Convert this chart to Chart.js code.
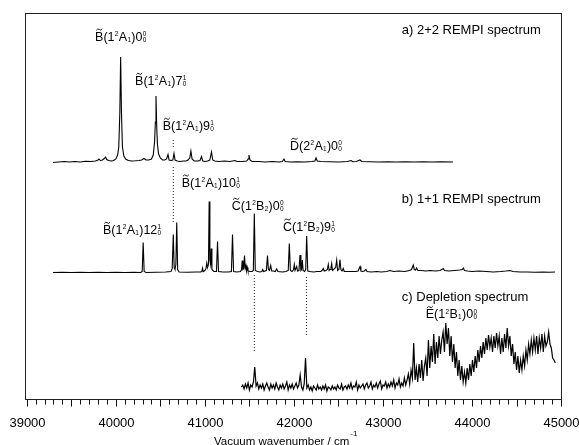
<!DOCTYPE html>
<html>
<head>
<meta charset="utf-8">
<title>REMPI and depletion spectra</title>
<script src="https://cdn.jsdelivr.net/npm/chart.js@4.4.1/dist/chart.umd.min.js"></script>
<style>
  html, body { margin: 0; padding: 0; background: #fff; }
</style>
</head>
<body>
<canvas id="spectra" width="579" height="445"></canvas>
<script>
// ── a) 2+2 REMPI spectrum: wavenumber / cm-1 and height above its baseline ──
var rempi22Wn = [
  39294, 39360, 39420, 39480, 39540, 39600, 39660, 39720, 39770, 39800,
  39811, 39825, 39850, 39870, 39884, 39898, 39920, 39950, 39975, 40000,
  40020, 40033, 40045, 40054, 40063, 40074, 40090, 40110, 40140, 40180,
  40220, 40260, 40290, 40316, 40340, 40370, 40400, 40420, 40435, 40444,
  40451, 40458, 40467, 40480, 40500, 40525, 40550, 40570, 40586, 40598,
  40620, 40640, 40653, 40665, 40690, 40720, 40760, 40790, 40810, 40830,
  40843, 40856, 40880, 40920, 40945, 40962, 40976, 41000, 41030, 41055,
  41074, 41088, 41110, 41160, 41220, 41280, 41338, 41360, 41420, 41470,
  41486, 41495, 41506, 41530, 41600, 41680, 41760, 41830, 41870, 41888,
  41902, 41960, 42040, 42120, 42200, 42235, 42248, 42262, 42300, 42400,
  42500, 42600, 42641, 42660, 42700, 42742, 42760, 42850, 42950, 43050,
  43150, 43250, 43350, 43450, 43550, 43650, 43787
];
var rempi22Int = [
  -0.5, 0, 0.5, 0, 0.5, 0, 0.8, 0.5, 1, 2,
  3, 1.5, 2, 3.5, 5, 2.5, 1.5, 1, 1.5, 3,
  7, 15, 50, 105, 50, 15, 6, 3, 1.5, 1,
  1.2, 1.5, 2, 3.5, 2, 2, 3, 7, 20, 40,
  66, 38, 18, 8, 4, 2, 2, 3, 7.5, 2,
  1.5, 2, 8.5, 2, 1, 0.5, 1, 1, 2, 4,
  11, 3, 1, 1, 1.5, 5.5, 1, 0.5, 1, 2,
  10, 2, 1, 0.5, 1, 0.5, 1.5, 0.5, 0.5, 1,
  3, 7, 2, 0.5, 0.5, 0, 0.5, 0, 0.5, 3,
  0.5, 0, 0.3, 0, 0.5, 1, 4, 1, 0.5, 0.3,
  0, 0.5, 1.5, 0.3, 0.5, 2, 0.5, 0.3, 0, 0.3,
  0, 0.2, 0, 0.3, 0, 0.3, 0
];

// ── b) 1+1 REMPI spectrum ──────────────────────────────────
var rempi11Wn = [
  39294, 39400, 39500, 39600, 39700, 39800, 39900, 40000, 40100, 40200,
  40280, 40296, 40307, 40318, 40340, 40450, 40560, 40620, 40633, 40645,
  40655, 40664, 40674, 40684, 40694, 40710, 40800, 40900, 40950, 40965,
  40973, 40982, 41000, 41012, 41021, 41030, 41040, 41048, 41056, 41064,
  41071, 41079, 41100, 41130, 41142, 41153, 41200, 41260, 41298, 41310,
  41322, 41360, 41400, 41412, 41419, 41427, 41436, 41445, 41453, 41462,
  41469, 41476, 41484, 41510, 41530, 41544, 41555, 41566, 41590, 41620,
  41640, 41649, 41660, 41690, 41703, 41713, 41725, 41739, 41750, 41770,
  41790, 41806, 41820, 41870, 41910, 41936, 41948, 41960, 41980, 41995,
  42004, 42012, 42022, 42031, 42040, 42056, 42068, 42078, 42086, 42094,
  42103, 42120, 42132, 42143, 42155, 42180, 42220, 42260, 42300, 42315,
  42330, 42340, 42360, 42375, 42386, 42395, 42405, 42416, 42424, 42432,
  42445, 42468, 42480, 42490, 42505, 42517, 42527, 42540, 42554, 42565,
  42600, 42650, 42690, 42720, 42742, 42752, 42770, 42790, 42809, 42820,
  42870, 42930, 42980, 43040, 43079, 43120, 43180, 43240, 43300, 43320,
  43340, 43352, 43366, 43378, 43392, 43430, 43480, 43530, 43590, 43640,
  43660, 43677, 43690, 43740, 43800, 43860, 43890, 43902, 43915, 43950,
  44000, 44080, 44160, 44240, 44320, 44380, 44426, 44460, 44540, 44620,
  44700, 44800, 44870, 44932
];
var rempi11Int = [
  0, 0.3, 0, 0.3, 0, 0.3, 0, 0.2, 0, 0.3,
  0, 1, 30, 1, 0, 0.3, 0.5, 1, 4, 38,
  5, 3, 8, 50, 3, 0.5, 0.3, 0.5, 0.5, 1,
  4.5, 1, 2, 4, 9.5, 5, 8, 71, 12, 8,
  24, 3, 1, 1, 31, 1, 0.5, 0.5, 1, 38,
  1, 0.5, 1, 3, 12, 3, 4, 17, 4, 7,
  2, 5, 1.5, 1, 1, 2, 59, 2, 1, 0.5,
  1, 3, 1, 2, 17, 3, 2, 7, 1.5, 1.5,
  1, 3.5, 1, 0.5, 1, 2, 29, 2, 1, 3,
  8, 2, 2, 6, 1.5, 2, 17.5, 2, 3, 12.5,
  2, 1, 3, 36.5, 1.5, 1, 0.5, 1, 1, 2,
  4, 1.5, 2, 3, 8, 2, 3, 5, 9, 2,
  3, 5, 12.5, 2, 3, 13, 3, 1.5, 4, 1,
  1, 1, 1, 1.5, 6, 1.5, 1, 1.5, 3, 1,
  0.5, 1, 0.5, 1, 2, 1, 1.5, 1, 2, 3,
  7.5, 3, 2.5, 4.5, 2, 2, 1.5, 2, 1.5, 2,
  3, 4, 2, 1.5, 2, 2.5, 3, 4.5, 2, 1.5,
  1, 1.5, 1, 0.5, 1, 1.5, 2, 1, 0.5, 0.5,
  0.3, 0.5, 0.2, 0.5
];

// ── c) Depletion spectrum (scan from 41410 cm-1 in 15 cm-1 steps) ──
var depletionStartWn = 41410;
var depletionStepWn = 15;
var depletionInt = [
  1, 3, -1, 4, 0, 5, -2, 3, 1, 6,
  21, 2, 5, -1, 3, 0, 4, -2, 2, 5,
  1, -2, 4, 0, 3, -1, 5, 1, -2, 3,
  0, 4, -1, 2, 6, -2, 3, 0, 4, -1,
  2, 5, 0, 3, 13, 1, -2, 4, 30, 0,
  3, -2, 1, -3, 2, 0, -2, 3, -1, 1,
  -2, 2, -1, 3, -3, 1, 0, -2, 2, -1,
  1, -2, 3, 0, -1, 4, -2, 1, 2, -1,
  3, 0, 5, -1, 2, 1, 6, -2, 3, 0,
  2, 4, -1, 3, 5, 0, 2, 6, -1, 3,
  1, 5, 0, 4, 7, -1, 3, 2, 6, 0,
  4, 1, 6, 2, 8, 0, 5, 3, 9, 1,
  5, 2, 10, 3, 8, 14, 4, 18, 10, 45,
  8, 20, 6, 24, 10, 28, 7, 22, 30, 12,
  48, 20, 42, 26, 54, 24, 46, 30, 52, 34,
  48, 56, 36, 65, 44, 60, 32, 52, 26, 44,
  20, 36, 12, 28, 8, 22, 6, 16, 5, 20,
  8, 24, 12, 28, 16, 32, 20, 38, 26, 42,
  30, 46, 34, 50, 38, 53, 41, 50, 36, 52,
  40, 55, 42, 52, 34, 50, 36, 54, 40, 60,
  42, 52, 32, 44, 24, 36, 18, 32, 15, 28,
  18, 32, 22, 38, 28, 44, 34, 48, 36, 50,
  38, 52, 34, 50, 40, 54, 36, 52, 42, 46,
  56, 44, 40, 30, 28, 25
];

// ── Dotted guide lines linking the same band across panels ──
var guideWn = [40645, 40645, 41555, 42140];
var guideTop = [259, 232, 124, 122];
var guideBottom = [252, 176, 46, 62];

// vertical offsets of the three stacked traces
var OFFSET_A = 237, OFFSET_B = 126.5, OFFSET_C = 11;

var FONT = '"Liberation Sans", Arial, Helvetica, sans-serif';

// band labels: ~X = letter with tilde, ^ = superscript, _ = subscript
var bandLabels = [
  { text: '~B(1^2A_1)0^0_0',  wn: 39767, y: 358.3 },
  { text: '~B(1^2A_1)7^1_0',  wn: 40216, y: 314 },
  { text: '~B(1^2A_1)9^1_0',  wn: 40526, y: 269 },
  { text: '~D(2^2A_1)0^0_0',  wn: 41956, y: 249 },
  { text: '~B(1^2A_1)10^1_0', wn: 40740, y: 212.3 },
  { text: '~B(1^2A_1)12^1_0', wn: 39856, y: 165 },
  { text: '~C(1^2B_2)0^0_0',  wn: 41301, y: 189 },
  { text: '~C(1^2B_2)9^1_0',  wn: 41877, y: 168.3 },
  { text: '~E(1^2B_1)0^0_0',  wn: 43480, y: 80.7 }
];
var panelTitles = [
  { text: 'a) 2+2 REMPI spectrum', wn: 44772, y: 364.7 },
  { text: 'b) 1+1 REMPI spectrum', wn: 44772, y: 195.7 },
  { text: 'c) Depletion spectrum', wn: 44631, y: 98.3 }
];

function trace(wn, values, offset) {
  return values.map(function (v, i) { return { x: wn[i], y: v + offset }; });
}

function depletionTrace() {
  return depletionInt.map(function (v, i) {
    return { x: depletionStartWn + i * depletionStepWn, y: v + OFFSET_C };
  });
}

function lineSet(points, extra) {
  var ds = {
    data: points,
    showLine: true,
    borderColor: '#000',
    borderWidth: 1.1,
    pointRadius: 0,
    tension: 0
  };
  for (var k in extra) ds[k] = extra[k];
  return ds;
}

// ── Rich text: tilde letters, stacked super/subscripts ─────
function drawRich(ctx, str, x, y, size) {
  var small = 6.5;
  var mainFont = size + 'px ' + FONT;
  var smallFont = small + 'px ' + FONT;
  var cx = x, i = 0;
  ctx.textAlign = 'left';
  ctx.textBaseline = 'alphabetic';
  while (i < str.length) {
    var ch = str[i];
    if (ch === '~') {
      var letter = str[i + 1];
      ctx.font = mainFont;
      ctx.fillText(letter, cx, y);
      var w = ctx.measureText(letter).width;
      var ty = y - size * 0.72 - 2.2;
      var a = cx + w * 0.15, b = w * 0.7;
      ctx.beginPath();
      ctx.moveTo(a, ty + 0.8);
      ctx.quadraticCurveTo(a + b * 0.25, ty - 1.6, a + b * 0.5, ty);
      ctx.quadraticCurveTo(a + b * 0.75, ty + 1.6, a + b, ty - 0.8);
      ctx.lineWidth = 0.9;
      ctx.stroke();
      cx += w;
      i += 2;
    } else if (ch === '^' || ch === '_') {
      ctx.font = smallFont;
      var sup = null, sub = null;
      if (ch === '^') {
        sup = str[i + 1];
        if (str[i + 2] === '_') { sub = str[i + 3]; i += 4; } else { i += 2; }
      } else {
        sub = str[i + 1];
        i += 2;
      }
      var ww = 0;
      if (sup) { ctx.fillText(sup, cx + 0.3, y - 4.7); ww = ctx.measureText(sup).width; }
      if (sub) { ctx.fillText(sub, cx + 0.3, y + 1); ww = Math.max(ww, ctx.measureText(sub).width); }
      cx += ww + 0.6;
    } else {
      ctx.font = mainFont;
      ctx.fillText(ch, cx, y);
      cx += ctx.measureText(ch).width;
      i += 1;
    }
  }
}

// ── Plugins: frame, tick marks + labels, annotations ───────
var framePlugin = {
  id: 'frame',
  afterDraw: function (chart) {
    var c = chart.ctx, a = chart.chartArea;
    c.save();
    c.strokeStyle = '#222';
    c.lineWidth = 1;
    c.strokeRect(Math.round(a.left) + 0.5, Math.round(a.top) + 0.5,
                 Math.round(a.right - a.left) - 1, Math.round(a.bottom - a.top));
    c.restore();
  }
};

var tickPlugin = {
  id: 'ticks100',
  afterDraw: function (chart) {
    var xs = chart.scales.x, c = chart.ctx;
    var bottom = Math.round(chart.chartArea.bottom) + 0.5;
    c.save();
    c.strokeStyle = '#111';
    c.fillStyle = '#000';
    c.lineWidth = 1;
    c.font = '13px ' + FONT;
    c.textAlign = 'center';
    c.textBaseline = 'middle';
    c.beginPath();
    xs.ticks.forEach(function (t) {
      var v = Math.round(t.value);
      if (v < 39000 || v > 45000 || v % 100 !== 0) return;
      var px = Math.round(xs.getPixelForValue(v)) + 0.5;
      var len = v % 500 === 0 ? 7 : 5;
      c.moveTo(px, bottom);
      c.lineTo(px, bottom + len);
      if (v % 1000 === 0) c.fillText(String(v), px, bottom + 24);
    });
    c.stroke();
    c.restore();
  }
};

var labelPlugin = {
  id: 'labels',
  afterDraw: function (chart) {
    var c = chart.ctx, xs = chart.scales.x, ys = chart.scales.y;
    c.save();
    c.fillStyle = '#000';
    c.strokeStyle = '#000';
    bandLabels.forEach(function (l) {
      drawRich(c, l.text, xs.getPixelForValue(l.wn), ys.getPixelForValue(l.y), 12.5);
    });
    c.font = '13px ' + FONT;
    c.textAlign = 'right';
    c.textBaseline = 'alphabetic';
    panelTitles.forEach(function (t) {
      c.fillText(t.text, xs.getPixelForValue(t.wn), ys.getPixelForValue(t.y));
    });
    // axis title with superscript
    c.font = '11.5px ' + FONT;
    c.textAlign = 'left';
    var title = 'Vacuum wavenumber / cm';
    var tx = 214, tyb = 445;
    c.fillText(title, tx, tyb);
    var tw = c.measureText(title).width;
    c.font = '8px ' + FONT;
    c.fillText('-1', tx + tw + 1, tyb - 9);
    c.restore();
  }
};

// ── Chart ──────────────────────────────────────────────────
var datasets = [
  lineSet(trace(rempi22Wn, rempi22Int, OFFSET_A)),
  lineSet(trace(rempi11Wn, rempi11Int, OFFSET_B)),
  lineSet(depletionTrace(), { borderWidth: 1.2 })
];
for (var g = 0; g < guideWn.length; g++) {
  datasets.push(lineSet(
    [{ x: guideWn[g], y: guideTop[g] }, { x: guideWn[g], y: guideBottom[g] }],
    { borderDash: [1, 2], borderColor: '#222', borderWidth: 1 }
  ));
}

new Chart(document.getElementById('spectra').getContext('2d'), {
  type: 'scatter',
  data: { datasets: datasets },
  options: {
    responsive: false,
    animation: false,
    layout: { padding: { left: 25, right: 17, top: 13, bottom: 14 } },
    plugins: { legend: { display: false }, tooltip: { enabled: false } },
    scales: {
      x: {
        type: 'linear',
        min: 38980,
        max: 45010,
        grid: { display: false },
        border: { display: false },
        ticks: { stepSize: 100, includeBounds: false, autoSkip: false, display: false },
        afterFit: function (scale) { scale.height = 32; }
      },
      y: { display: false, min: 0, max: 386 }
    }
  },
  plugins: [framePlugin, tickPlugin, labelPlugin]
});
</script>
</body>
</html>
